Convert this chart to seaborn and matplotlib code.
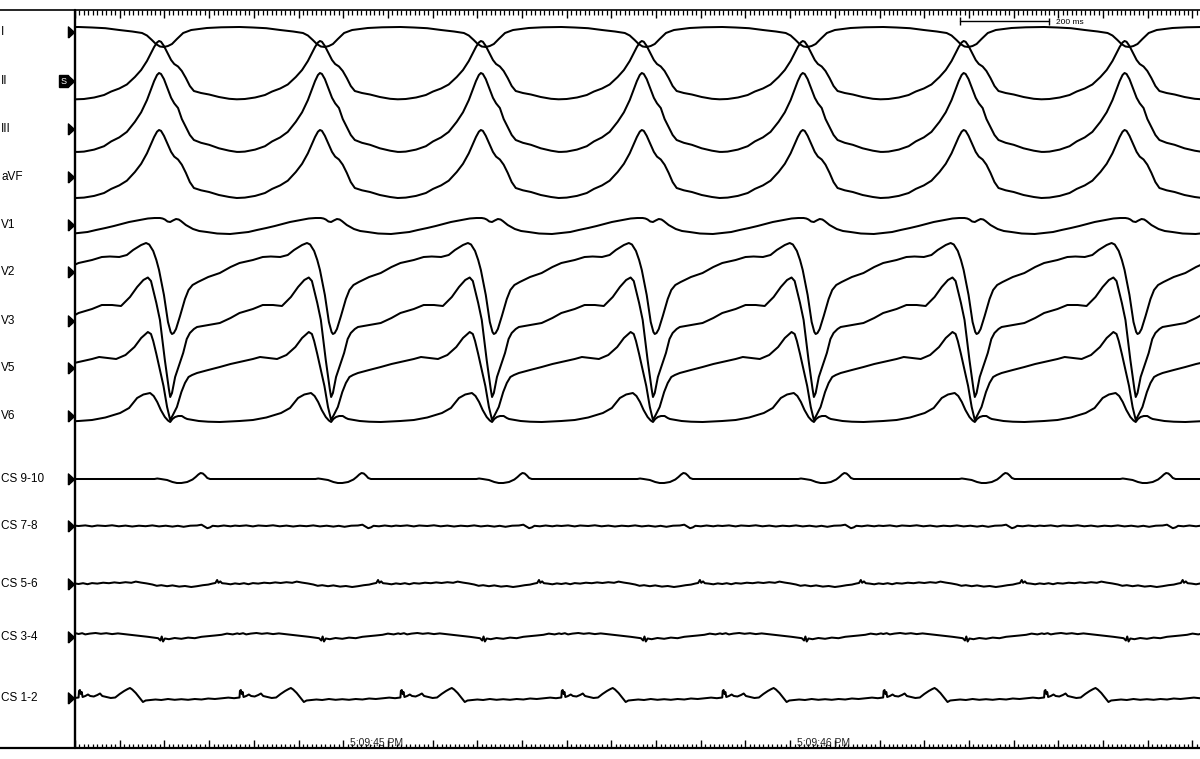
import numpy as np
import pandas as pd
import matplotlib
matplotlib.use("Agg")
import matplotlib.pyplot as plt
import seaborn as sns

# ------------------------------------------------------------------ data
lead_names = ["I", "II", "III", "aVF", "V1", "V2", "V3", "V5", "V6",
              "CS 9-10", "CS 7-8", "CS 5-6", "CS 3-4", "CS 1-2"]

# beat reference times (ms from left edge of the sweep), cycle ~360 ms
beat_times_ms = [-172, 188, 548, 908, 1268, 1628, 1988, 2348]

# one-cycle templates: (ms relative to beat, amplitude)
lead_I = [(-180, 5), (-150, 4.5), (-120, 3.8), (-89, 2), (-60, 0.5), (-38, -1),
          (-27, -3.5), (-16, -8), (-7, -12), (2, -14.5), (11, -15), (20, -14),
          (29, -12), (40, -7), (54, -1), (72, 2), (107, 4), (139, 4.7), (174, 5), (180, 5)]
lead_II = [(-180, -18.2), (-168, -18), (-145, -16.5), (-123, -14), (-107, -10.5),
           (-89, -7.5), (-72, -3.5), (-54, 4), (-40, 11), (-27, 20), (-18, 28), (-11, 34),
           (-4.5, 38.5), (0, 40), (4.5, 39.2), (11, 35), (20, 27), (27, 21), (34, 17),
           (42.5, 14.5), (51, 10), (60, 3), (69, -5), (78, -10), (94, -12), (112, -13.5),
           (134, -16), (157, -17.8), (174, -18.3), (180, -18.2)]
lead_III = [(-180, -22.9), (-168, -22.6), (-145, -20.6), (-123, -17.2), (-107, -12.4),
            (-89, -8.4), (-72, -2.9), (-54, 7.2), (-40, 16.7), (-27, 28.9), (-18, 39.7),
            (-11, 47.9), (-4.5, 54), (0, 56), (4.5, 55), (11, 49.9), (20, 39.3), (27, 31.2),
            (34, 25.7), (42.5, 21), (51, 10), (60, 2), (69, -6), (78, -11), (94, -13.8),
            (112, -15.8), (134, -19.3), (157, -21.7), (174, -22.9), (180, -22.9)]
lead_aVF = [(-180, -20.9), (-168, -20.6), (-145, -18.9), (-123, -16), (-107, -11.9),
            (-89, -8.4), (-72, -3.7), (-54, 5), (-40, 13.2), (-27, 23.7), (-18, 33),
            (-11, 40), (-4.5, 45.3), (0, 47), (4.5, 46.1), (11, 41.2), (20, 32.1),
            (27, 25.1), (34, 20.4), (42.5, 17.5), (51, 12.3), (60, 4.2), (69, -5.1),
            (78, -11), (94, -13.3), (112, -15), (134, -18), (157, -20), (174, -21),
            (180, -20.9)]
lead_V1 = [(-180, -8), (-160, -7), (-141, -5), (-120, -3), (-101, -1), (-84, 1),
           (-67, 3), (-43, 5), (-25, 6.5), (-10, 7), (2, 7), (8, 6.5), (13, 5.5), (19, 3.5),
           (25, 3), (31, 4.5), (38, 6), (44, 5.5), (49, 4), (60, 0), (76, -4), (90, -6),
           (107, -7), (130, -8.5), (159, -9), (180, -8)]
lead_V2 = [(-180, 9), (-150, 12), (-128, 15), (-110, 15.5), (-89, 15), (-72, 17),
           (-58, 22), (-40, 27), (-29, 29), (-22, 27.5), (-13, 21), (-6, 12), (0, 2),
           (11, -23), (20, -50), (26, -60), (29, -62), (33, -61), (38, -57), (47, -44),
           (58, -27), (66, -18), (75, -13), (87, -10), (110, -5), (136, -1), (160, 5),
           (180, 9)]
lead_V3 = [(-180, 8), (-150, 12), (-128, 16), (-105, 16), (-85, 15), (-65, 24),
           (-49, 34), (-35, 41), (-25, 43.5), (-18, 40), (-13, 31), (-6, 18), (2, 1),
           (13, -39), (22, -68), (25, -76), (29, -72), (36, -56), (54, -32), (62, -18),
           (69, -12), (78, -8), (85, -6), (110, -4), (136, -2), (160, 3), (180, 8)]
lead_V5 = [(-180, 6), (-150, 9), (-134, 11), (-115, 10), (-96, 9), (-75, 13), (-55, 21),
           (-40, 30), (-25, 36), (-18, 34), (-13, 27), (-6, 14), (2, -2), (10, -18),
           (18, -39), (25, -52), (31, -47), (40, -39), (50, -24), (58, -15), (66, -9),
           (74, -7), (85, -5), (110, -2), (136, 1), (160, 4), (180, 6)]
lead_V6 = [(-180, -5), (-150, -4), (-120, -1.5), (-87, 3), (-67, 8), (-49, 18),
           (-35, 21.5), (-20, 23), (-12, 20), (-4, 14), (4, 6), (13, -1), (20, -4.5),
           (25, -6), (30, -3), (36, -1), (43, 0), (51, 0), (58, -2), (63, -3), (89, -5),
           (110, -5.7), (136, -6), (160, -5.5), (180, -5)]
cs_9_10 = [(-180, 0), (-10, 0), (-4, 0.5), (4, 0), (18, -1), (30, -3), (40, -4),
           (50, -4), (63, -3), (75, -0.5), (82, 2), (88, 4.5), (93, 6), (98, 5.5),
           (103, 3.5), (108, 1), (114, 0), (180, 0)]
cs_7_8 = [(-180, 0), (-165, 0.6), (-150, -0.4), (-138, 0.5), (-120, 0), (-105, 0.7),
          (-90, -0.3), (-75, 0.4), (-60, -0.5), (-45, 0.3), (-30, -0.2), (-15, 0.6),
          (0, -0.4), (15, 0.3), (30, -0.6), (42, 0.2), (55, -0.8), (70, 0.3), (85, 0.5),
          (95, 1.3), (102, -0.6), (108, -2.2), (114, -1.4), (120, 0.2), (132, -0.3),
          (145, 0.5), (160, -0.3), (170, 0.4), (180, 0)]
cs_5_6 = [(-180, 0), (-170, 0.8), (-160, -0.2), (-150, 0.9), (-138, 0.4), (-125, 1.3),
          (-112, 0.8), (-100, 1.6), (-88, 1.0), (-75, 1.8), (-62, 1.2), (-52, 2.4),
          (-40, 1.4), (-28, 0.6), (-15, -0.5), (-5, -1.8), (5, -1.2), (18, -2.2),
          (30, -1.4), (45, -2.6), (58, -2.0), (72, -3.0), (85, -2.2), (98, -1.2),
          (110, -0.6), (120, 0.5), (126, 1.0), (130, 4.0), (133, 1.2), (137, 2.6),
          (141, 0.8), (150, 0.4), (160, -0.3), (170, 0.6), (180, 0)]
cs_3_4 = [(-180, 3), (-172, 3.8), (-165, 2.6), (-155, 3.4), (-142, 4.0), (-130, 3.2),
          (-118, 3.8), (-105, 2.9), (-92, 3.6), (-80, 3.0), (-66, 2.2), (-52, 1.6),
          (-38, 0.8), (-25, 0.2), (-12, -0.6), (-2, -1.2), (3, -3.5), (6, 0.5), (9, -4.5),
          (13, -1.5), (22, -2.2), (35, -1.0), (50, -1.8), (65, -0.6), (80, -1.2),
          (95, 0.2), (110, 0.8), (125, 1.5), (140, 2.2), (152, 3.4), (165, 2.6),
          (175, 3.6), (180, 3)]
cs_1_2 = [(-180, 0.5), (-179, 7), (-177, 8), (-175, 4), (-173, 6), (-171, 1), (-165, 2),
          (-159, 3.5), (-154, 2), (-146, 1.5), (-138, 3), (-132, 4.5), (-127, 2),
          (-118, 1), (-108, 0), (-98, 0.5), (-88, 4), (-78, 7), (-70, 9), (-65, 10),
          (-60, 8.5), (-52, 5), (-45, 1), (-40, -2), (-36, -4), (-30, -2.5), (-20, -2),
          (-8, -1.5), (5, -2), (20, -1), (35, -1.8), (50, -1.2), (65, -1.8), (80, -1),
          (95, -1.5), (110, -0.5), (125, -1), (140, -0.3), (155, 0.4), (168, -0.2),
          (180, 0.5)]

templates = [lead_I, lead_II, lead_III, lead_aVF, lead_V1, lead_V2, lead_V3, lead_V5,
             lead_V6, cs_9_10, cs_7_8, cs_5_6, cs_3_4, cs_1_2]

time_labels = ["5:09:45 PM", "5:09:46 PM"]
time_label_ms = [600, 1600]
scale_bar_ms = 200

# ------------------------------------------------------------------ layout
W, H = 1200, 759
X0 = 75                     # pixel column of the sweep start
PX_PER_MS = 0.447
baselines = [32, 81, 129, 177, 225, 272, 321, 368, 416, 479, 526, 584, 637, 698]


def t_of_px(px):
    return (px - X0) / PX_PER_MS


sns.set_style("white")
plt.rcParams["font.family"] = ["Liberation Sans", "DejaVu Sans"]

fig = plt.figure(figsize=(W / 100, H / 100), dpi=100)
ax = fig.add_axes([X0 / W, 0, (W - X0) / W, 1])

rows = []
for name, base, tpl in zip(lead_names, baselines, templates):
    arr = np.asarray(tpl, dtype=float)
    for i, b in enumerate(beat_times_ms):
        seg = arr if i == len(beat_times_ms) - 1 else arr[:-1]
        for t, a in seg:
            rows.append((name, b + t, base - a))
df = pd.DataFrame(rows, columns=["lead", "t", "y"])

sns.lineplot(data=df, x="t", y="y", units="lead", estimator=None, sort=False,
             color="black", lw=1.45, ax=ax, legend=False)
for ln in ax.get_lines():
    ln.set_solid_joinstyle("round")
    ln.set_solid_capstyle("round")

T_MAX = t_of_px(W)
ax.set_xlim(0, T_MAX)
ax.set_ylim(H, 0)
ax.axis("off")

# rulers
t_left = t_of_px(0)
ax.plot([t_left, T_MAX], [10, 10], color="black", lw=1.2, clip_on=False)
ax.plot([t_left, T_MAX], [748, 748], color="black", lw=1.6, clip_on=False)
ticks = np.arange(0, T_MAX, 10)
major = (np.round(ticks).astype(int) % 100) == 0
ax.vlines(ticks[~major], 10, 14.5, color="black", lw=0.9, clip_on=False)
ax.vlines(ticks[major], 10, 18, color="black", lw=1.0, clip_on=False)
ax.vlines(ticks[~major], 744, 748, color="black", lw=0.9, clip_on=False)
ax.vlines(ticks[major], 740, 748, color="black", lw=1.0, clip_on=False)
ax.plot([0, 0], [10, 748], color="black", lw=1.7, clip_on=False)

# scale bar
sb0 = t_of_px(960)
ax.plot([sb0, sb0 + scale_bar_ms], [21, 21], color="black", lw=1.0)
ax.vlines([sb0], 17, 25, color="black", lw=1.0)
ax.vlines([sb0 + scale_bar_ms], 18, 25, color="black", lw=1.0)
ax.text(sb0 + scale_bar_ms + 15, 22.5, f"{scale_bar_ms} ms", fontsize=6,
        ha="left", va="center", color="black")

# time stamps
for lab, tm in zip(time_labels, time_label_ms):
    ax.text(tm + 15, 746.5, lab, fontsize=7.5, ha="left", va="baseline", color="#222222")

# channel labels and markers
tri = [(-0.55, -1), (0.55, 0), (-0.55, 1), (-0.55, -1)]
for name, base in zip(lead_names, baselines):
    ax.text(t_of_px(1), base, name, fontsize=8.5, ha="left", va="center",
            color="black", clip_on=False)
ax.plot([t_of_px(71)] * len(baselines), baselines, ls="none", marker=tri, ms=8,
        color="black", clip_on=False)
ax.text(t_of_px(63.5), baselines[1], "S", fontsize=6.5, color="white", ha="center",
        va="center", bbox=dict(boxstyle="square,pad=0.12", fc="black", ec="black"))

fig.savefig("out.png", dpi=100)
